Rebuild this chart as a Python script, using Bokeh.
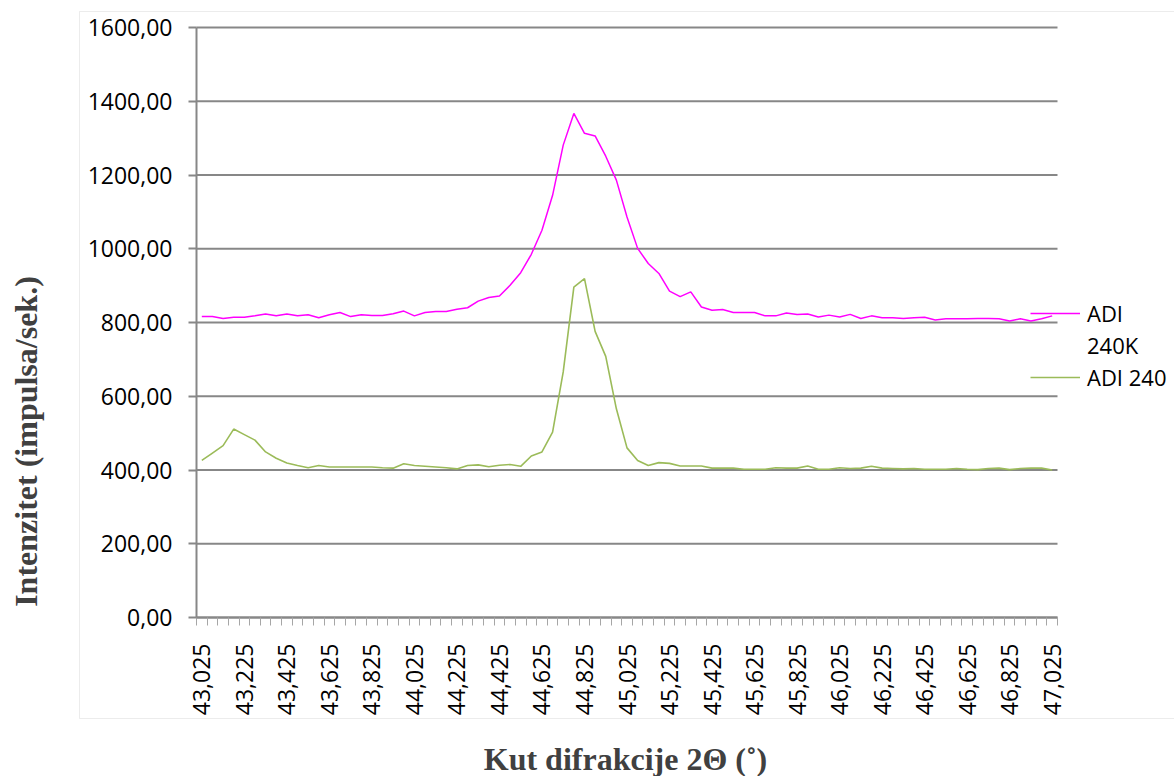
import math
from bokeh.plotting import figure
from bokeh.models import (Range1d, FixedTicker, CustomJSTickFormatter, Legend,
                          LegendItem, ColumnDataSource, Label, BoxAnnotation)
from bokeh.core.properties import value
from bokeh.embed import file_html
from bokeh.resources import INLINE

# ---- data ----
angles = [43.025, 43.075, 43.125, 43.175, 43.225, 43.275, 43.325, 43.375, 43.425, 43.475,
          43.525, 43.575, 43.625, 43.675, 43.725, 43.775, 43.825, 43.875, 43.925, 43.975,
          44.025, 44.075, 44.125, 44.175, 44.225, 44.275, 44.325, 44.375, 44.425, 44.475,
          44.525, 44.575, 44.625, 44.675, 44.725, 44.775, 44.825, 44.875, 44.925, 44.975,
          45.025, 45.075, 45.125, 45.175, 45.225, 45.275, 45.325, 45.375, 45.425, 45.475,
          45.525, 45.575, 45.625, 45.675, 45.725, 45.775, 45.825, 45.875, 45.925, 45.975,
          46.025, 46.075, 46.125, 46.175, 46.225, 46.275, 46.325, 46.375, 46.425, 46.475,
          46.525, 46.575, 46.625, 46.675, 46.725, 46.775, 46.825, 46.875, 46.925, 46.975,
          47.025]

adi_240k = [816, 816, 811, 814, 814, 818, 823, 818, 823, 818,
            821, 813, 821, 827, 816, 821, 819, 819, 824, 831,
            818, 827, 830, 830, 836, 840, 858, 868, 872, 901,
            935, 985, 1050, 1145, 1281, 1367, 1313, 1306, 1251, 1186,
            1086, 1001, 960, 933, 885, 870, 883, 842, 833, 835,
            827, 827, 827, 818, 818, 826, 822, 823, 815, 820,
            815, 822, 811, 818, 813, 813, 811, 813, 814, 807,
            810, 810, 810, 811, 811, 810, 804, 810, 804, 810,
            818]

adi_240 = [426, 446, 466, 511, 496, 481, 449, 432, 419, 412,
           406, 412, 408, 408, 408, 408, 408, 406, 405, 417,
           412, 410, 408, 406, 403, 412, 414, 409, 413, 415,
           410, 438, 449, 503, 666, 896, 919, 776, 708, 566,
           460, 426, 412, 420, 418, 411, 411, 411, 405, 405,
           405, 402, 402, 402, 406, 405, 405, 411, 402, 402,
           406, 404, 405, 410, 405, 404, 403, 404, 402, 402,
           402, 404, 402, 401, 404, 405, 401, 404, 405, 405,
           400]

y_ticks = [0, 200, 400, 600, 800, 1000, 1200, 1400, 1600]
legend_lines = ["ADI", "240K", "ADI 240"]
x_title = "Kut difrakcije 2\u0398 (\u02da)"
y_title = "Intenzitet (impulsa/sek.)"

# ---- layout (pixels on the canvas) ----
W, H = 1174, 776
AX_L, AX_R = 196, 1057      # category axis extent
AX_T, AX_B = 27, 617        # value axis extent (1600 .. 0)

step = angles[1] - angles[0]
x_lo = angles[0] - step / 2
x_hi = angles[-1] + step / 2
kx = (x_hi - x_lo) / (AX_R - AX_L)
y_lo, y_hi = y_ticks[0], y_ticks[-1]
ky = (y_hi - y_lo) / (AX_B - AX_T)

# the frame covers the whole canvas; the axes sit at fixed data locations
p = figure(width=W, height=H, output_backend="svg", toolbar_location=None,
           x_range=Range1d(x_lo - AX_L * kx, x_lo + (W - AX_L) * kx),
           y_range=Range1d(y_lo - (H - AX_B) * ky, y_hi + AX_T * ky),
           min_border=0, min_border_left=0, min_border_right=0,
           min_border_top=0, min_border_bottom=0)
p.background_fill_color = "white"
p.border_fill_color = "white"
p.outline_line_color = None

# outer chart-area border
p.add_layout(BoxAnnotation(left=79, right=W + 20, top=11, bottom=718,
                           left_units="canvas", right_units="canvas",
                           top_units="canvas", bottom_units="canvas",
                           fill_alpha=0, line_color="#c0c0c0", line_width=1))

# horizontal grid lines limited to the category axis extent
p.xgrid.grid_line_color = None
p.ygrid.grid_line_color = None
p.segment(x0=[x_lo] * len(y_ticks), x1=[x_hi] * len(y_ticks), y0=y_ticks, y1=y_ticks,
          line_color="#878787", line_width=2)

src = ColumnDataSource(dict(x=angles, a=adi_240k, b=adi_240))
r1 = p.line("x", "a", source=src, line_color="#ff00ff", line_width=1.5)
r2 = p.line("x", "b", source=src, line_color="#9bbb59", line_width=1.6)

# x axis
xa = p.xaxis[0]
xa.fixed_location = y_lo
xa.bounds = (x_lo, x_hi)
xa.ticker = FixedTicker(ticks=angles[::4],
                        minor_ticks=[a - step / 2 for a in angles] + [x_hi])
xa.formatter = CustomJSTickFormatter(code="return tick.toFixed(3).replace('.', ',');")
xa.major_label_orientation = math.pi / 2
xa.major_tick_out = 0
xa.major_tick_in = 0
xa.minor_tick_out = 8
xa.minor_tick_in = 0
xa.minor_tick_line_color = "#a6a6a6"
xa.axis_line_color = "#878787"
xa.axis_line_width = 2
xa.major_label_standoff = 18

# y axis
ya = p.yaxis[0]
ya.fixed_location = x_lo
ya.bounds = (y_lo, y_hi)
ya.ticker = FixedTicker(ticks=y_ticks)
ya.formatter = CustomJSTickFormatter(code="return tick.toFixed(2).replace('.', ',');")
ya.major_tick_out = 8
ya.major_tick_in = 0
ya.minor_tick_out = 0
ya.minor_tick_in = 0
ya.major_tick_line_color = "#878787"
ya.major_tick_line_width = 2
ya.axis_line_color = "#878787"
ya.axis_line_width = 2
ya.major_label_standoff = 16

for ax in (xa, ya):
    ax.major_label_text_font = "Open Sans"
    ax.major_label_text_font_size = "23px"
    ax.major_label_text_color = "black"

# axis titles
p.add_layout(Label(x=25, y=441, x_units="canvas", y_units="canvas", text=y_title,
                   angle=math.pi / 2, text_align="center", text_baseline="middle",
                   text_font="Liberation Serif", text_font_style="bold",
                   text_font_size="32px", text_color="#404040"))
p.add_layout(Label(x=625, y=758, x_units="canvas", y_units="canvas", text=x_title,
                   text_align="center", text_baseline="middle",
                   text_font="Liberation Serif", text_font_style="bold",
                   text_font_size="32px", text_color="#404040"))

legend = Legend(items=[LegendItem(label=value(legend_lines[0]), renderers=[r1]),
                       LegendItem(label=value(legend_lines[1]), renderers=[]),
                       LegendItem(label=value(legend_lines[2]), renderers=[r2])],
                location=(1030, 383), orientation="vertical", padding=0, margin=0,
                spacing=0, glyph_width=50, glyph_height=32, label_height=32,
                label_standoff=7,
                label_text_font="Open Sans", label_text_font_size="22px",
                label_text_color="black",
                border_line_color=None, background_fill_alpha=0)
p.add_layout(legend)

open("out.html", "w").write(file_html(p, INLINE))
